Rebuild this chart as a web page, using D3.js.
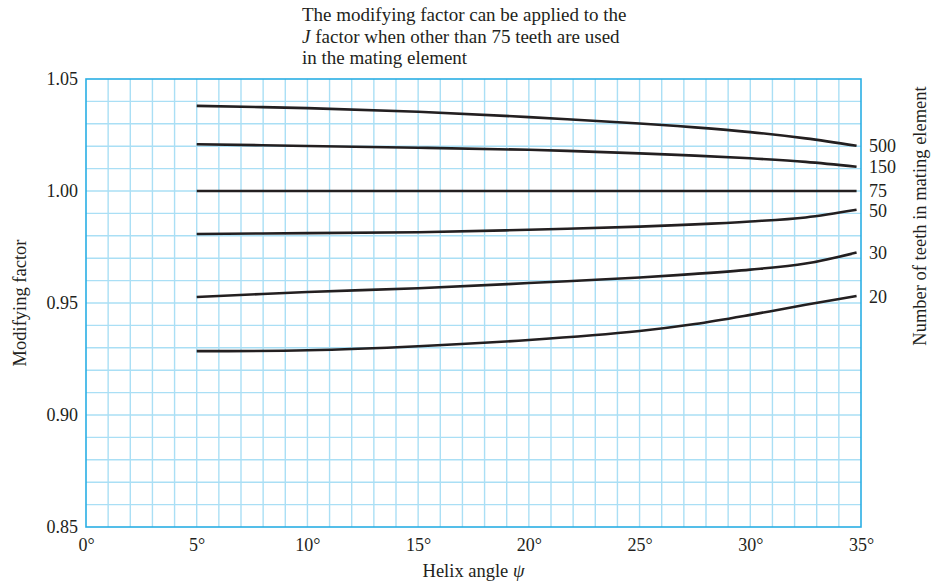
<!DOCTYPE html>
<html>
<head>
<meta charset="utf-8">
<script src="https://cdn.jsdelivr.net/npm/d3@7"></script>
<style>
html,body{margin:0;padding:0;background:#fff;}
svg{display:block;font-family:"Liberation Serif","Times New Roman",serif;}
</style>
</head>
<body>
<svg id="chart" width="942" height="585"></svg>
<script>
// Data
const angles = [5, 10, 15, 20, 25, 27.5, 30, 32.5, 34.8];
const teeth = ["500", "150", "75", "50", "30", "20"];
const factor500 = [1.0380, 1.0370, 1.0354, 1.0330, 1.0301, 1.0284, 1.0263, 1.0235, 1.0202];
const factor150 = [1.0209, 1.0201, 1.0193, 1.0184, 1.0168, 1.0158, 1.0146, 1.0130, 1.0108];
const factor75  = [1.0000, 1.0000, 1.0000, 1.0000, 1.0000, 1.0000, 1.0000, 1.0000, 1.0000];
const factor50  = [0.9808, 0.9812, 0.9816, 0.9827, 0.9841, 0.9851, 0.9864, 0.9882, 0.9916];
const factor30  = [0.9527, 0.9549, 0.9566, 0.9589, 0.9614, 0.9630, 0.9649, 0.9676, 0.9725];
const factor20  = [0.9285, 0.9289, 0.9307, 0.9335, 0.9375, 0.9406, 0.9447, 0.9492, 0.9531];
const seriesValues = [factor500, factor150, factor75, factor50, factor30, factor20];
const xTicks = [0, 5, 10, 15, 20, 25, 30, 35];
const yTicks = [0.85, 0.90, 0.95, 1.00, 1.05];
const titleLines = ["The modifying factor can be applied to the", "J factor when other than 75 teeth are used", "in the mating element"];

const svg = d3.select("#chart");
const margin = {left: 86, right: 81, top: 79, bottom: 58};
const W = 942, H = 585;
const x = d3.scaleLinear().domain([0, 35]).range([margin.left, W - margin.right]);
const y = d3.scaleLinear().domain([0.85, 1.05]).range([H - margin.bottom, margin.top]);

const gridColor = "#aadff5";
const frameColor = "#2aaee4";
const ink = "#231f20";
const FONT = "Liberation Serif, Times New Roman, serif";

// grid
const g = svg.append("g");
g.append("g").selectAll("line").data(d3.range(1, 35)).join("line")
  .attr("x1", d => x(d)).attr("x2", d => x(d))
  .attr("y1", y(0.85)).attr("y2", y(1.05))
  .attr("stroke", gridColor).attr("stroke-width", 1.4);
g.append("g").selectAll("line").data(d3.range(1, 20).map(i => 0.85 + i * 0.01)).join("line")
  .attr("y1", d => y(d)).attr("y2", d => y(d))
  .attr("x1", x(0)).attr("x2", x(35))
  .attr("stroke", gridColor).attr("stroke-width", 1.4);
g.append("rect")
  .attr("x", x(0)).attr("y", y(1.05))
  .attr("width", x(35) - x(0)).attr("height", y(0.85) - y(1.05))
  .attr("fill", "none").attr("stroke", frameColor).attr("stroke-width", 1.6);

// axes
const fmtDeg = d => d + "°";
const xAxis = d3.axisBottom(x).tickValues(xTicks).tickFormat(fmtDeg).tickSize(0).tickPadding(11);
const gx = svg.append("g").attr("transform", `translate(0,${y(0.85)})`).call(xAxis);
gx.select(".domain").remove();
gx.selectAll("text").attr("font-size", 18).attr("fill", ink).attr("font-family", FONT);

const yAxis = d3.axisLeft(y).tickValues(yTicks).tickFormat(d3.format(".2f")).tickSize(0).tickPadding(8);
const gy = svg.append("g").attr("transform", `translate(${x(0)},0)`).call(yAxis);
gy.select(".domain").remove();
gy.selectAll("text").attr("font-size", 18).attr("fill", ink).attr("font-family", FONT);

// curves
const line = d3.line().x(d => x(d[0])).y(d => y(d[1])).curve(d3.curveCatmullRom.alpha(0.5));
svg.append("g").selectAll("path").data(seriesValues).join("path")
  .attr("d", vals => line(angles.map((a, i) => [a, vals[i]])))
  .attr("fill", "none").attr("stroke", ink).attr("stroke-width", 2.6)
  .attr("stroke-linecap", "butt");

// right labels
const labelY = [1.0201, 1.0107, 1.0000, 0.9912, 0.9722, 0.9527];
svg.append("g").selectAll("text").data(teeth).join("text")
  .attr("x", x(35) + 8)
  .attr("y", (d, i) => y(labelY[i]))
  .attr("dy", "0.33em")
  .attr("font-size", 18).attr("fill", ink)
  .text(d => d);

// title
const t = svg.append("text").attr("font-size", 19).attr("fill", ink);
titleLines.forEach((ln, i) => {
  const ts = t.append("tspan").attr("x", 302).attr("y", 21 + i * 21.5);
  if (i === 1) {
    ts.append("tspan").attr("font-style", "italic").text("J");
    ts.append("tspan").text(ln.slice(1));
  } else {
    ts.text(ln);
  }
});

// axis titles
const xt = svg.append("text").attr("x", (x(0) + x(35)) / 2).attr("y", 577)
  .attr("text-anchor", "middle").attr("font-size", 18.5).attr("fill", ink);
xt.append("tspan").text("Helix angle ");
xt.append("tspan").attr("font-style", "italic").text("ψ");

svg.append("text")
  .attr("transform", `translate(26,${(y(0.85) + y(1.05)) / 2}) rotate(-90)`)
  .attr("text-anchor", "middle").attr("font-size", 18.5).attr("fill", ink)
  .text("Modifying factor");

svg.append("text")
  .attr("transform", `translate(926,216) rotate(-90)`)
  .attr("text-anchor", "middle").attr("font-size", 18.5).attr("fill", ink)
  .text("Number of teeth in mating element");
</script>
</body>
</html>
